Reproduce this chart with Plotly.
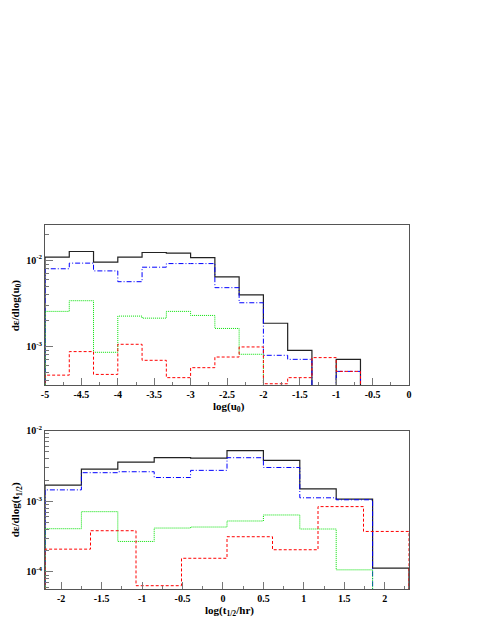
import numpy as np
import plotly.graph_objects as go

# bin edges of the two histograms
U0_EDGES = np.linspace(-5, 0, 16)
T_EDGES = np.linspace(-2.2, 2.3, 11)
T_EDGES_RED = np.linspace(-2.2, 2.3, 9)

# top panel: de/dlog(u0)
u0_total = [0.01084, 0.01259, 0.00948, 0.01084, 0.01227, 0.01208, 0.01072, 0.00638,
            0.00394, 0.00185, 0.000897, 0, 0.000705, 0, 0]
u0_blue = [0.00794, 0.00923, 0.00750, 0.00562, 0.00828, 0.00912, 0.00912, 0.00479,
           0.00320, 0.000785, 0.000705, 0, 0.000511, 0, 0]
u0_green = [0.00254, 0.00338, 0.000851, 0.00224, 0.00212, 0.00254, 0.00228, 0.00161,
            0.000807, 0, 0, 0, 0, 0, 0]
u0_red = [0.000462, 0.000867, 0.000471, 0.001054, 0.000687, 0.000432, 0.000564, 0.000750,
          0.000982, 0.000367, 0.000432, 0.000738, 0.000511, 0, 0]

# bottom panel: de/dlog(t1/2)
t_total = [0.00169, 0.00285, 0.00359, 0.00414, 0.00409, 0.00521, 0.00379, 0.00150,
           0.00107, 0.000113]
t_blue = [0.00145, 0.00254, 0.00262, 0.00217, 0.00274, 0.00414, 0.00301, 0.00112,
          0.00105, 0]
t_green = [0.000409, 0.000713, 0.000270, 0.000418, 0.000432, 0.000526, 0.000640, 0.000405,
           0.000107, 0]
t_red = [0.000210, 0.000383, 0.0000638, 0.000156, 0.000315, 0.000206, 0.000841, 0.000374]

FLOOR = 1e-9  # empty bins drop below the axis


def step(edges, vals):
    xs, ys = [edges[0]], [FLOOR]
    for i, v in enumerate(vals):
        v = v if v > 0 else FLOOR
        xs += [edges[i], edges[i + 1]]
        ys += [v, v]
    xs.append(edges[-1])
    ys.append(FLOOR)
    return xs, ys


styles = [
    ('#222222', 'solid', 1.2),
    ('#0000ff', '5px,2px,1px,2px', 1),
    ('#00e000', '1px,1px', 1),
    ('#ff0000', '3px,2px', 1),
]

fig = go.Figure()
for (col, dash, w), vals in zip(styles, [u0_total, u0_blue, u0_green, u0_red]):
    xs, ys = step(U0_EDGES, vals)
    fig.add_trace(go.Scatter(x=xs, y=ys, mode='lines', line=dict(color=col, dash=dash, width=w),
                             xaxis='x', yaxis='y', showlegend=False))
for (col, dash, w), vals, edges in zip(styles, [t_total, t_blue, t_green, t_red],
                                       [T_EDGES, T_EDGES, T_EDGES, T_EDGES_RED]):
    xs, ys = step(edges, vals)
    fig.add_trace(go.Scatter(x=xs, y=ys, mode='lines', line=dict(color=col, dash=dash, width=w),
                             xaxis='x2', yaxis='y2', showlegend=False))

font = dict(family='Liberation Serif', size=11, color='black')
axis_common = dict(showgrid=False, zeroline=False, showline=True, mirror=True, automargin=False,
                   linecolor='#555', linewidth=1, ticks='inside', tickcolor='#777',
                   tickfont=dict(family='Liberation Serif', size=10, color='black'))


def minor_vals(lo, hi):
    out = []
    for d in range(lo, hi):
        out += [m * 10.0 ** d for m in range(2, 10)]
    return out


# page body adds ~8px offset, so margins are shifted to compensate
fig.update_layout(
    width=491, height=635,
    margin=dict(l=37, r=90, t=217, b=54),
    paper_bgcolor='white', plot_bgcolor='white',
    font=font,
    xaxis=dict(axis_common, domain=[0, 1], anchor='y', range=[-5, 0], ticklen=7,
               minor=dict(dtick=0.25, tick0=0, ticklen=3, ticks='inside', tickcolor='#777'),
               tickvals=[-5, -4.5, -4, -3.5, -3, -2.5, -2, -1.5, -1, -0.5, 0],
               ticktext=['<b>-5</b>', '<b>-4.5</b>', '<b>-4</b>', '<b>-3.5</b>', '<b>-3</b>',
                         '<b>-2.5</b>', '<b>-2</b>', '<b>-1.5</b>', '<b>-1</b>', '<b>-0.5</b>',
                         '<b>0</b>']),
    yaxis=dict(axis_common, domain=[0.5604, 1], anchor='x', type='log', range=[-3.45, -1.592],
               tickvals=[0.001, 0.01], ticktext=['<b>10<sup>-3</sup></b>', '<b>10<sup>-2</sup></b>'],
               ticklen=8,
               minor=dict(tickmode='array', tickvals=minor_vals(-4, -1), ticklen=4,
                          ticks='inside', tickcolor='#777')),
    xaxis2=dict(axis_common, domain=[0, 1], anchor='y2', range=[-2.2, 2.3], ticklen=7,
                minor=dict(dtick=0.25, tick0=0, ticklen=3, ticks='inside', tickcolor='#777'),
                tickvals=[-2, -1.5, -1, -0.5, 0, 0.5, 1, 1.5, 2],
                ticktext=['<b>-2</b>', '<b>-1.5</b>', '<b>-1</b>', '<b>-0.5</b>', '<b>0</b>',
                          '<b>0.5</b>', '<b>1</b>', '<b>1.5</b>', '<b>2</b>']),
    yaxis2=dict(axis_common, domain=[0, 0.435], anchor='x2', type='log', range=[-4.242, -2.0],
                tickvals=[0.0001, 0.001, 0.01],
                ticktext=['<b>10<sup>-4</sup></b>', '<b>10<sup>-3</sup></b>', '<b>10<sup>-2</sup></b>'],
                ticklen=8,
                minor=dict(tickmode='array', tickvals=minor_vals(-5, -2), ticklen=4,
                           ticks='inside', tickcolor='#777')),
    annotations=[
        dict(text='<b>log(u<sub>0</sub>)</b>', xref='paper', yref='paper', x=0.505, y=0.5,
             xanchor='center', yanchor='middle', showarrow=False, font=font),
        dict(text='<b>dε/dlog(u<sub>0</sub>)</b>', xref='paper', yref='paper', x=-0.079, y=0.78,
             xanchor='center', yanchor='middle', textangle=-90, showarrow=False, font=font),
        dict(text='<b>log(t<sub>1/2</sub>/hr)</b>', xref='paper', yref='paper', x=0.508, y=-0.06,
             xanchor='center', yanchor='middle', showarrow=False, font=font),
        dict(text='<b>dε/dlog(t<sub>1/2</sub>)</b>', xref='paper', yref='paper', x=-0.079, y=0.217,
             xanchor='center', yanchor='middle', textangle=-90, showarrow=False, font=font),
    ],
)

fig.write_html('out.html')
